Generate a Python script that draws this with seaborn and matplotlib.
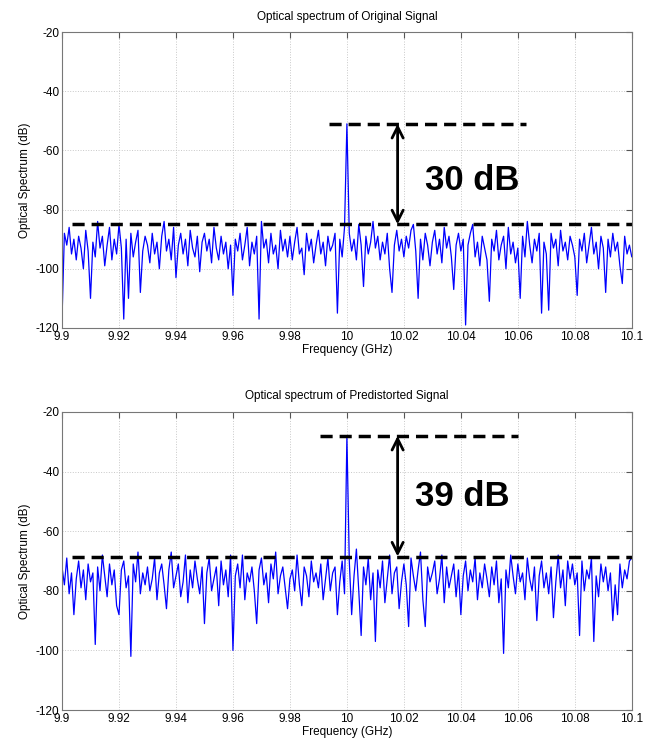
import numpy as np
import pandas as pd
import matplotlib
matplotlib.use("Agg")
import matplotlib.pyplot as plt
import seaborn as sns

# frequency grid (GHz), 12 samples per 0.01 GHz
freq = np.linspace(9.9, 10.1, 241)

# optical spectrum of the original signal (dB), rows of 0.01 GHz
orig_db = [
    -117, -88, -92, -86, -95, -90, -97, -89, -93, -100, -87, -94,
    -110, -91, -96, -84, -93, -89, -99, -92, -86, -97, -90, -95,
    -85, -93, -117, -90, -110, -88, -96, -91, -87, -108, -94, -89,
    -92, -98, -88, -95, -91, -100, -89, -84, -94, -90, -97, -86,
    -103, -92, -88, -95, -90, -99, -87, -93, -96, -89, -101, -91,
    -88, -94, -90, -98, -86, -93, -97, -89, -95, -91, -100, -92,
    -109, -90, -94, -88, -97, -92, -86, -99, -91, -95, -89, -117,
    -84, -93, -90, -98, -88, -95, -92, -100, -87, -94, -90, -96,
    -89, -97, -91, -86, -95, -93, -102, -88, -94, -90, -98, -92,
    -87, -95, -91, -99, -89, -94, -92, -88, -115, -90, -96, -86,
    -51, -88, -94, -90, -97, -85, -92, -106, -89, -95, -91, -84,
    -93, -89, -97, -91, -95, -88, -100, -108, -92, -87, -94, -90,
    -96, -89, -93, -87, -85, -94, -110, -90, -97, -88, -92, -99,
    -91, -87, -95, -90, -98, -86, -93, -89, -96, -107, -92, -88,
    -94, -90, -119, -92, -88, -85, -96, -91, -99, -89, -93, -97,
    -111, -90, -94, -87, -97, -92, -89, -100, -86, -95, -91, -98,
    -93, -110, -89, -96, -84, -92, -98, -90, -94, -88, -115, -91,
    -95, -114, -88, -93, -90, -99, -87, -94, -91, -97, -89, -92,
    -96, -109, -90, -94, -88, -98, -92, -86, -95, -91, -100, -89,
    -93, -108, -90, -96, -88, -94, -91, -99, -105, -89, -95, -92,
    -96,
]

# optical spectrum of the predistorted signal (dB)
pred_db = [
    -72, -78, -69, -81, -74, -88, -76, -70, -79, -73, -83, -71,
    -77, -74, -98, -72, -80, -68, -75, -82, -71, -78, -73, -85,
    -88, -73, -70, -79, -75, -102, -71, -77, -67, -81, -74, -78,
    -72, -80, -76, -69, -83, -74, -71, -78, -86, -73, -67, -79,
    -75, -71, -82, -77, -68, -84, -73, -79, -70, -76, -81, -72,
    -91, -74, -69, -80, -76, -72, -85, -70, -78, -73, -82, -68,
    -100, -75, -71, -79, -68, -83, -74, -77, -72, -80, -91, -73,
    -69, -78, -74, -84, -71, -76, -67, -81, -75, -72, -79, -86,
    -76, -73, -80, -68, -78, -85, -72, -75, -82, -70, -77, -74,
    -79, -71, -83, -76, -69, -80, -74, -72, -88, -77, -70, -81,
    -28, -70, -88, -75, -66, -80, -95, -72, -78, -69, -83, -74,
    -97, -73, -79, -70, -84, -76, -68, -81, -74, -72, -86, -77,
    -71, -78, -92, -69, -75, -80, -73, -67, -83, -92, -72, -77,
    -74, -70, -81, -76, -68, -84, -72, -79, -75, -71, -82, -73,
    -88, -75, -70, -80, -73, -77, -69, -83, -74, -79, -71, -76,
    -82, -72, -78, -70, -84, -76, -101, -73, -79, -68, -75, -81,
    -71, -77, -74, -83, -69, -76, -80, -72, -90, -75, -70, -79,
    -74, -81, -72, -89, -77, -68, -79, -73, -85, -70, -76, -71,
    -78, -74, -95, -70, -80, -73, -76, -69, -97, -75, -82, -71,
    -77, -72, -80, -74, -90, -78, -88, -71, -79, -73, -76, -70,
    -69,
]

titles = ["Optical spectrum of Original Signal",
          "Optical spectrum of Predistorted Signal"]
peak_levels = [-51, -28]
floor_levels = [-85, -68.5]
peak_line_span = [(9.9937, 10.0628), (9.9905, 10.060)]
gap_labels = ["30 dB", "39 dB"]
label_pos = [(10.0274, -70), (10.0240, -48.5)]

xticks = [9.9, 9.92, 9.94, 9.96, 9.98, 10.0, 10.02, 10.04, 10.06, 10.08, 10.1]
xticklabels = ["9.9", "9.92", "9.94", "9.96", "9.98", "10",
               "10.02", "10.04", "10.06", "10.08", "10.1"]
yticks = [-120, -100, -80, -60, -40, -20]

sns.set_style("white")
plt.rcParams["font.family"] = ["Liberation Sans", "DejaVu Sans"]
plt.rcParams["axes.unicode_minus"] = False
for key in ["text.color", "axes.labelcolor", "xtick.labelcolor",
            "ytick.labelcolor"]:
    plt.rcParams[key] = "black"

fig = plt.figure(figsize=(6.46, 7.47), dpi=100)
axes = [fig.add_axes([0.096, 0.561, 0.882, 0.396]),
        fig.add_axes([0.096, 0.0495, 0.882, 0.399])]

for i, ax in enumerate(axes):
    df = pd.DataFrame({"freq": freq, "db": orig_db if i == 0 else pred_db})
    sns.lineplot(data=df, x="freq", y="db", ax=ax, color="#0000ff", lw=0.9)

    ax.set_xlim(9.9, 10.1)
    ax.set_ylim(-120, -20)
    ax.set_xticks(xticks)
    ax.set_xticklabels(xticklabels)
    ax.set_yticks(yticks)
    ax.grid(True, color="#c8c8c8", ls=":", lw=0.7)
    ax.tick_params(direction="in", top=True, right=True, length=4,
                   labelsize=8.5, pad=2, color="#555555")
    for sp in ax.spines.values():
        sp.set_color("#777777")
        sp.set_linewidth(0.8)
    ax.set_xlabel("Frequency (GHz)", fontsize=8.5, labelpad=1)
    ax.set_ylabel("Optical Spectrum (dB)", fontsize=8.5, labelpad=3)
    ax.set_title(titles[i], fontsize=8.5, pad=9)

    # dashed reference levels
    x0, x1 = peak_line_span[i]
    ax.plot([x0, x1], [peak_levels[i]] * 2, color="black", lw=2.5,
            ls="--", dashes=(3.5, 2))
    ax.plot([9.9035, 10.1], [floor_levels[i]] * 2, color="black", lw=2.5,
            ls="--", dashes=(3.5, 2), clip_on=False)

    ax.annotate("", xy=(10.0178, floor_levels[i]),
                xytext=(10.0178, peak_levels[i]),
                arrowprops=dict(arrowstyle="<->", lw=2, color="black",
                                mutation_scale=20, shrinkA=0, shrinkB=0))
    tx, ty = label_pos[i]
    ax.text(tx, ty, gap_labels[i], fontsize=25, fontweight="bold",
            va="center", ha="left")

fig.savefig("out.png", dpi=100)
